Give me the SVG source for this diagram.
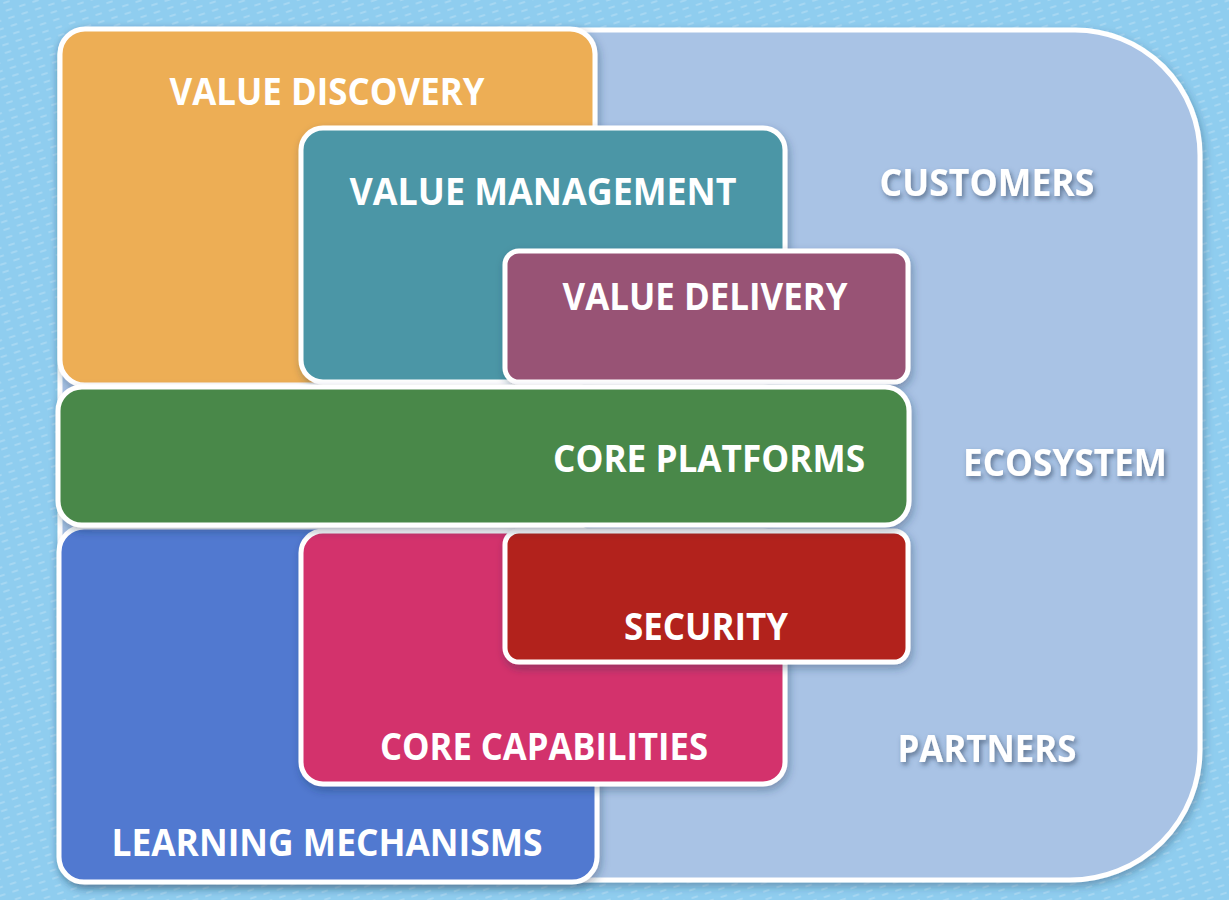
<svg xmlns="http://www.w3.org/2000/svg" width="1229" height="900" viewBox="0 0 1229 900">
<defs>
<pattern id="dots" width="14" height="8" patternUnits="userSpaceOnUse" patternTransform="rotate(-18)">
<rect x="0" y="0" width="14" height="8" fill="#8fcdef"/>
<rect x="2" y="3" width="7" height="2" rx="1" fill="#a6d7f2"/>
</pattern>
<filter id="sh" x="-10%" y="-10%" width="120%" height="125%">
<feDropShadow dx="2" dy="4" stdDeviation="4" flood-color="#1d3550" flood-opacity="0.35"/>
</filter>
<filter id="tsh" x="-10%" y="-20%" width="120%" height="150%">
<feDropShadow dx="2" dy="3" stdDeviation="2.5" flood-color="#2a3f5a" flood-opacity="0.6"/>
</filter>
</defs>
<style>
.box{stroke:#ffffff;stroke-width:5;filter:url(#sh)}
.lbl{font-family:"Open Sans","Liberation Sans",sans-serif;font-weight:bold;font-size:37px;fill:#ffffff;text-anchor:middle}
.eco{filter:url(#tsh)}
</style>
<rect width="1229" height="900" fill="url(#dots)"/>
<g id="ecosystem">
<path class="box" d="M85 30 H1075 A125 125 0 0 1 1200 155 V750 A130 130 0 0 1 1070 880 H85 A25 25 0 0 1 60 855 V55 A25 25 0 0 1 85 30 Z" fill="#a9c3e5"/>
<text class="lbl eco" x="987" y="196" textLength="215" lengthAdjust="spacingAndGlyphs">CUSTOMERS</text>
<text class="lbl eco" x="1065" y="476" textLength="204" lengthAdjust="spacingAndGlyphs">ECOSYSTEM</text>
<text class="lbl eco" x="987" y="762" textLength="179" lengthAdjust="spacingAndGlyphs">PARTNERS</text>
</g>
<g id="value-discovery">
<rect class="box" x="60" y="29" width="535" height="356" rx="25" fill="#edae55"/>
<text class="lbl" x="327" y="105" textLength="315" lengthAdjust="spacingAndGlyphs">VALUE DISCOVERY</text>
</g>
<g id="value-management">
<rect class="box" x="301" y="128" width="484" height="254" rx="22" fill="#4b96a6"/>
<text class="lbl" x="543" y="205" textLength="387" lengthAdjust="spacingAndGlyphs">VALUE MANAGEMENT</text>
</g>
<g id="value-delivery">
<rect class="box" x="505" y="251" width="403" height="131" rx="14" fill="#985375"/>
<text class="lbl" x="705" y="310" textLength="285" lengthAdjust="spacingAndGlyphs">VALUE DELIVERY</text>
</g>
<g id="learning-mechanisms">
<rect class="box" x="59" y="527" width="538" height="355" rx="25" fill="#5179d0"/>
<text class="lbl" x="327" y="856" textLength="431" lengthAdjust="spacingAndGlyphs">LEARNING MECHANISMS</text>
</g>
<g id="core-capabilities">
<rect class="box" x="301" y="531" width="484" height="253" rx="22" fill="#d3336c"/>
<text class="lbl" x="544" y="760" textLength="328" lengthAdjust="spacingAndGlyphs">CORE CAPABILITIES</text>
</g>
<g id="security">
<rect class="box" x="505" y="531" width="403" height="131" rx="14" fill="#b2231b"/>
<text class="lbl" x="706" y="640" textLength="164" lengthAdjust="spacingAndGlyphs">SECURITY</text>
</g>
<g id="core-platforms">
<rect class="box" x="58" y="387" width="851" height="138" rx="24" fill="#4a884a"/>
<text class="lbl" x="709" y="472" textLength="312" lengthAdjust="spacingAndGlyphs">CORE PLATFORMS</text>
</g>
<g id="connectors"></g>
</svg>
